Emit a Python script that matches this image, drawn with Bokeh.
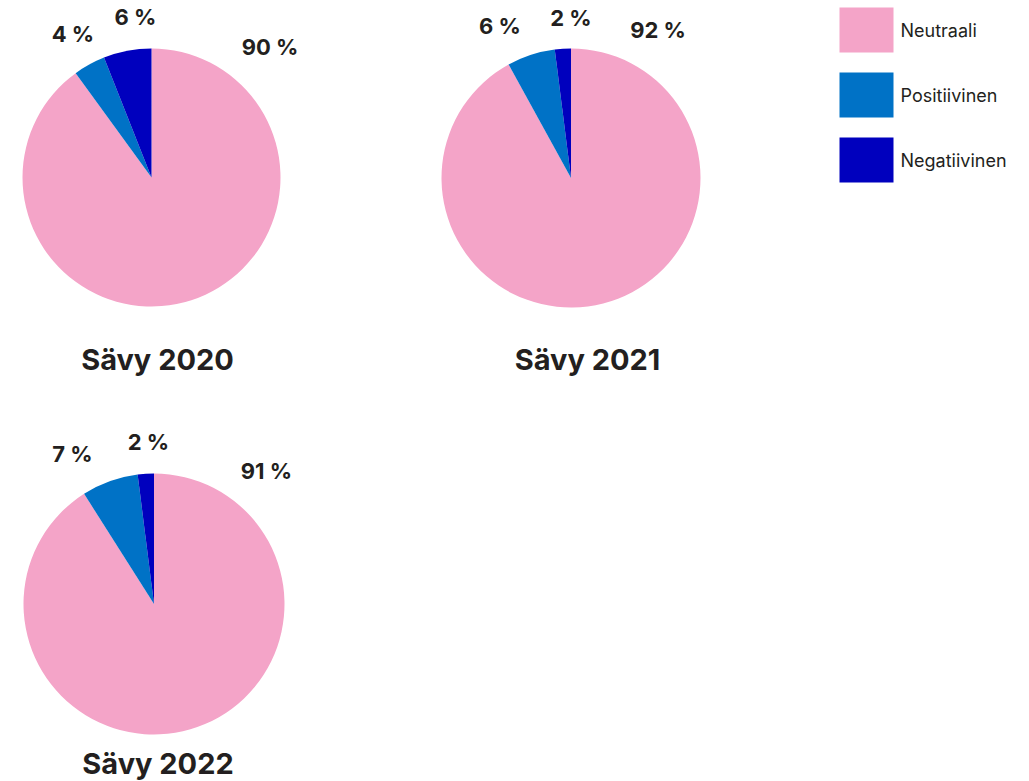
import numpy as np
from bokeh.plotting import figure
from bokeh.models import Range1d, ColumnDataSource
from bokeh.core.properties import value
from bokeh.embed import file_html
from bokeh.resources import INLINE

# ---- data ----
categories = ["Neutraali", "Positiivinen", "Negatiivinen"]
chart_titles = ["Sävy 2020", "Sävy 2021", "Sävy 2022"]
share_2020 = [90, 4, 6]
share_2021 = [92, 6, 2]
share_2022 = [91, 7, 2]
shares = [share_2020, share_2021, share_2022]

# ---- styles / layout ----
colors = ["#F4A4C8", "#0072C6", "#0000BE"]
text_color = "#231F20"
W, H = 1029, 781

# pie centres and radii in screen px (top-down)
centers = [(151, 177), (570.5, 177.5), (153.5, 603.5)]
radii = [129, 129.5, 130.5]
# title anchor (centre x, middle y) in screen px
title_pos = [(157, 359), (587, 359), (157.5, 763)]
# label offsets from pie centre (screen px) per slice
label_offsets = [
    [(118.5, -130.5), (-78.5, -143.5), (-16, -160.5)],
    [(87, -148.5), (-71, -152.5), (0, -160)],
    [(112.5, -133.5), (-81.5, -150.5), (-5.5, -162.5)],
]
legend_x0, legend_w, legend_h = 839, 54, 45
legend_tops = [7, 72, 137]


def Y(sy):
    return H - sy


p = figure(width=W, height=H, x_range=Range1d(0, W), y_range=Range1d(0, H),
           output_backend="svg", toolbar_location=None, min_border=0,
           x_axis_location=None, y_axis_location=None,
           outline_line_color=None, background_fill_color="white",
           border_fill_color="white")
p.grid.visible = False

for i, vals in enumerate(shares):
    cx, cy = centers[i]
    r = radii[i]
    v = np.array(vals, dtype=float)
    frac = v / v.sum()
    cum = np.concatenate([[0], np.cumsum(frac)])
    start = np.pi / 2 - cum[:-1] * 2 * np.pi
    end = np.pi / 2 - cum[1:] * 2 * np.pi
    src = ColumnDataSource(dict(
        x=[cx] * len(vals), y=[Y(cy)] * len(vals), start=start, end=end,
        color=colors, cat=categories))
    p.wedge(x="x", y="y", radius=r, start_angle="start", end_angle="end",
            direction="clock", fill_color="color", line_color=None, source=src)

    lsrc = ColumnDataSource(dict(
        x=[cx + dx for dx, dy in label_offsets[i]],
        y=[Y(cy + dy) for dx, dy in label_offsets[i]],
        text=[f"{val} %" for val in vals]))
    p.text(x="x", y="y", text="text", source=lsrc, text_align="center",
           text_baseline="middle", text_font=value("Inter"),
           text_font_style="bold", text_font_size="22px", text_color=text_color)

    tx, ty = title_pos[i]
    p.text(x=[tx], y=[Y(ty)], text=[chart_titles[i]], text_align="center",
           text_baseline="middle", text_font=value("Inter"),
           text_font_style="bold", text_font_size="29px", text_color=text_color)

# legend
leg = ColumnDataSource(dict(
    x=[legend_x0 + legend_w / 2] * 3,
    y=[Y(t + legend_h / 2) for t in legend_tops],
    tx=[legend_x0 + legend_w + 7] * 3,
    color=colors, text=categories))
p.rect(x="x", y="y", width=legend_w, height=legend_h, fill_color="color",
       line_color=None, source=leg)
p.text(x="tx", y="y", text="text", source=leg, text_align="left",
       text_baseline="middle", text_font=value("Inter"),
       text_font_size="18px", text_color=text_color)

open("out.html", "w").write(file_html(p, INLINE))
